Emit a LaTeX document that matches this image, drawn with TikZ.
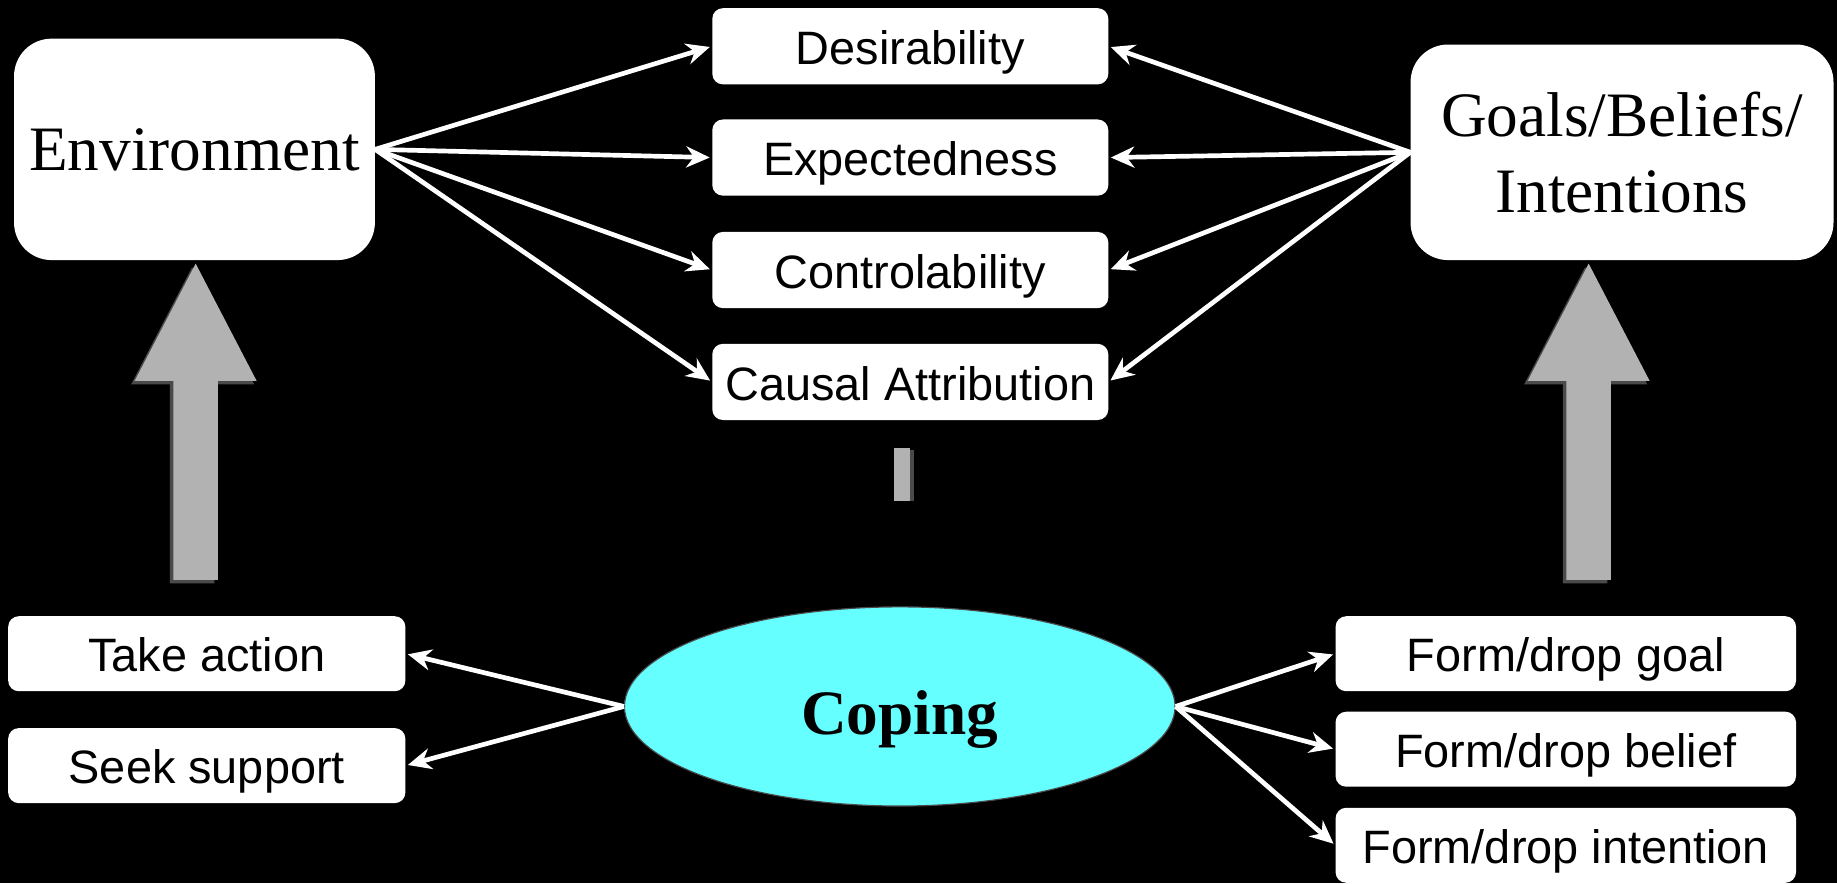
\documentclass[tikz,border=0pt]{standalone}
\usepackage{fontspec}
\setmainfont{Liberation Serif}
\setsansfont{Liberation Sans}
\usepackage{tikz}
\usetikzlibrary{arrows.meta,shapes.geometric}
\definecolor{copingcyan}{HTML}{66FFFF}
\definecolor{blockgray}{HTML}{B2B2B2}
\definecolor{shadowgray}{HTML}{4A4A4A}

\begin{document}
\begin{tikzpicture}[x=1pt, y=-1pt]
    % Define styles
    \tikzstyle{bigbox} = [rectangle, rounded corners=32pt, fill=white, text=black, align=center, font=\fontsize{54}{65}\selectfont]
    \tikzstyle{appraisal} = [rectangle, rounded corners=9pt, fill=white, text=black, minimum width=338pt, minimum height=65pt, text height=38pt, text depth=7pt, font=\sffamily\fontsize{40}{48}\selectfont]
    \tikzstyle{strategy} = [rectangle, rounded corners=9pt, fill=white, text=black, minimum height=64pt, text height=38pt, text depth=7pt, font=\sffamily\fontsize{40}{48}\selectfont]
    \tikzstyle{arrow} = [white, line width=4pt, ->, >={Stealth[length=20pt,width=18pt]}, shorten >=2pt]

    % Background
    \fill[black] (0,0) rectangle (1568,754);
    \useasboundingbox (0,0) rectangle (1568,754);

    % Nodes
    \node (environment) [bigbox, minimum width=308pt, minimum height=189pt] at (166,127.5) {Environment};
    \node (gbi) [bigbox, minimum width=361pt, minimum height=184pt] at (1384.5,130) {Goals/Beliefs/\\Intentions};
    \node (desirability) [appraisal] at (777,39.5) {Desirability};
    \node (expectedness) [appraisal] at (777,134.5) {Expectedness};
    \node (controlability) [appraisal] at (777,230.5) {Controlability};
    \node (causal) [appraisal] at (777,326) {Causal Attribution};
    \node (coping) [ellipse, fill=copingcyan, draw=shadowgray, line width=1pt, minimum width=470pt, minimum height=170pt, text height=56pt, text depth=8pt, font=\bfseries\fontsize{54}{65}\selectfont] at (768,603) {Coping};
    \node (take_action) [strategy, minimum width=339pt] at (176.5,558) {Take action};
    \node (seek_support) [strategy, minimum width=339pt] at (176.5,653.5) {Seek support};
    \node (drop_goal) [strategy, minimum width=393pt] at (1336.5,558) {Form/drop goal};
    \node (drop_belief) [strategy, minimum width=393pt] at (1336.5,639.5) {Form/drop belief};
    \node (drop_intention) [strategy, minimum width=393pt] at (1336.5,721.5) {Form/drop intention};

    % Arrows
    \draw [arrow] (environment.east) -- (desirability.west);
    \draw [arrow] (environment.east) -- (expectedness.west);
    \draw [arrow] (environment.east) -- (controlability.west);
    \draw [arrow] (environment.east) -- (causal.west);
    \draw [arrow] (gbi.west) -- (desirability.east);
    \draw [arrow] (gbi.west) -- (expectedness.east);
    \draw [arrow] (gbi.west) -- (controlability.east);
    \draw [arrow] (gbi.west) -- (causal.east);
    \draw [arrow] (coping.west) -- (take_action.east);
    \draw [arrow] (coping.west) -- (seek_support.east);
    \draw [arrow] (coping.east) -- (drop_goal.west);
    \draw [arrow] (coping.east) -- (drop_belief.west);
    \draw [arrow] (coping.east) -- (drop_intention.west);

    % Block arrows
    \foreach \cx in {167,1356} {
        \fill[shadowgray] (\cx-3,228) -- (\cx+50,328) -- (\cx+16,328) -- (\cx+16,498) -- (\cx-22,498) -- (\cx-22,328) -- (\cx-55,328) -- cycle;
        \fill[blockgray] (\cx,225) -- (\cx+52,325) -- (\cx+19,325) -- (\cx+19,495) -- (\cx-19,495) -- (\cx-19,325) -- (\cx-52,325) -- cycle;
    }
    \fill[shadowgray] (765,384) rectangle (780,428);
    \fill[blockgray] (763,382) rectangle (777,428);
\end{tikzpicture}
\end{document}
